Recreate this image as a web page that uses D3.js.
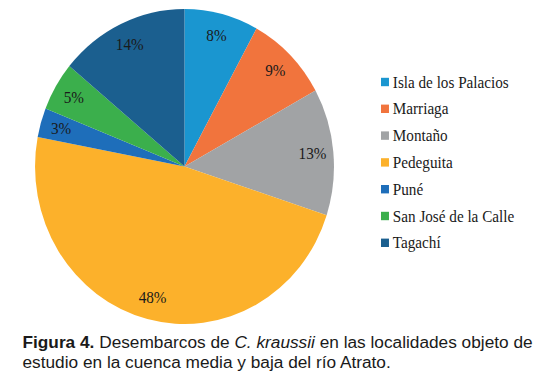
<!DOCTYPE html>
<html><head><meta charset="utf-8">
<script src="https://cdn.jsdelivr.net/npm/d3@7"></script>
<style>
html,body{margin:0;padding:0;background:#fff;}
svg{display:block;}
.serif{font-family:"Liberation Serif","Times New Roman",Times,serif;}
.sans{font-family:"Liberation Sans",Arial,Helvetica,sans-serif;}
</style></head>
<body>
<script>
const categories = ["Isla de los Palacios","Marriaga","Montaño","Pedeguita","Puné","San José de la Calle","Tagachí"];
const values = [8, 9, 13, 48, 3, 5, 14];
const colors = ["#1A96D0","#F1743D","#A1A3A5","#FCB12B","#1E6EBA","#3BAF4C","#1B5F8F"];

const W = 542, H = 380;
const svg = d3.select("body").append("svg").attr("width", W).attr("height", H);

const sx = 0.949;
const g = svg.append("g").attr("transform", `scale(${sx},1)`);

const R = 157.5;
const cx = 184.5 / sx, cy = 166.5;

const pie = d3.pie().sort(null).value(d => d)(values);
const arc = d3.arc().innerRadius(0).outerRadius(R);
const labelArc = d3.arc().innerRadius(R * 0.86).outerRadius(R * 0.86);

const pg = g.append("g").attr("transform", `translate(${cx},${cy})`);
pg.selectAll("path").data(pie).join("path")
  .attr("d", arc)
  .attr("fill", (d, i) => colors[i]);

pg.selectAll("text").data(pie).join("text")
  .attr("class", "serif")
  .attr("transform", d => `translate(${labelArc.centroid(d)})`)
  .attr("text-anchor", "middle")
  .attr("dy", "0.35em")
  .attr("font-size", 16)
  .attr("fill", "#1a1a1a")
  .text(d => d.data + "%");

const lg = g.append("g").attr("transform", `translate(${381 / sx},${82})`);
const row = lg.selectAll("g").data(categories).join("g")
  .attr("transform", (d, i) => `translate(0,${i * 26.8})`);
row.append("rect").attr("x", 0).attr("y", -4.2).attr("width", 8.4).attr("height", 8.4)
  .attr("fill", (d, i) => colors[i]);
row.append("text").attr("class", "serif").attr("x", 12.5).attr("y", 5.5)
  .attr("font-size", 16)
  .attr("fill", "#1a1a1a")
  .text(d => d);

const cap = svg.append("g")
  .attr("class", "sans")
  .attr("font-size", 17.25)
  .attr("fill", "#1a1a1a");
const t1 = cap.append("text").attr("x", 22.5).attr("y", 348);
t1.append("tspan").attr("font-weight", "bold").text("Figura 4.");
t1.append("tspan").text(" Desembarcos de ");
t1.append("tspan").attr("font-style", "italic").text("C. kraussii");
t1.append("tspan").text(" en las localidades objeto de");
cap.append("text").attr("x", 22.5).attr("y", 368).text("estudio en la cuenca media y baja del río Atrato.");
</script>
</body></html>
